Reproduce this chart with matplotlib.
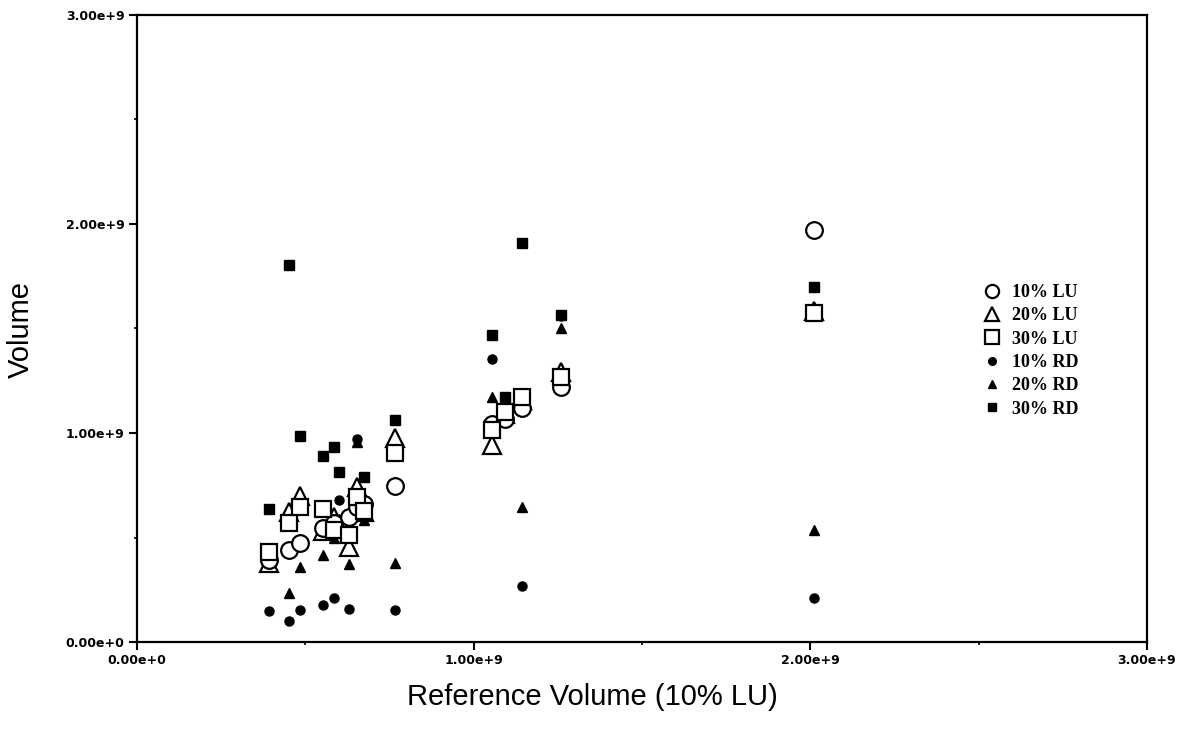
import numpy as np
import matplotlib
matplotlib.use("Agg")
import matplotlib.pyplot as plt
from matplotlib.lines import Line2D
from matplotlib.ticker import FixedLocator, MultipleLocator, FuncFormatter

nan = np.nan

# Reference volume (10% LU), in units of 1e9
ref_volume = [0.392, 0.452, 0.484, 0.553, 0.585, 0.600, 0.630, 0.653,
              0.675, 0.765, 1.053, 1.093, 1.145, 1.258, 2.010]

# Volumes for each scenario, in units of 1e9
lu10 = [0.39, 0.44, 0.475, 0.545, 0.57, nan, 0.60, 0.645,
        0.66, 0.746, 1.045, 1.065, 1.12, 1.222, 1.97]
lu20 = [0.38, 0.62, 0.70, 0.53, 0.60, nan, 0.455, 0.742,
        0.62, 0.976, 0.943, 1.09, 1.16, 1.29, 1.582]
lu30 = [0.43, 0.569, 0.646, 0.636, 0.536, nan, 0.512, 0.694,
        0.625, 0.904, 1.014, 1.10, 1.174, 1.27, 1.573]
rd10 = [0.148, 0.10, 0.153, 0.177, 0.21, 0.679, 0.158, 0.97,
        0.67, 0.153, 1.355, 1.096, 0.268, 1.56, 0.211]
rd20 = [0.39, 0.236, 0.36, 0.416, 0.50, 0.59, 0.373, 0.955,
        0.584, 0.378, 1.174, 1.13, 0.646, 1.50, 0.536]
rd30 = [0.636, 1.804, 0.986, 0.89, 0.931, 0.815, 0.592, 0.70,
        0.788, 1.062, 1.469, 1.174, 1.909, 1.565, 1.70]

series_labels = ["10% LU", "20% LU", "30% LU", "10% RD", "20% RD", "30% RD"]
tick_values = [0.0, 1.0e9, 2.0e9, 3.0e9]
tick_labels = ["0.00e+0", "1.00e+9", "2.00e+9", "3.00e+9"]

scale = 1e9
x = np.array(ref_volume) * scale

W, H = 1187, 749
fig = plt.figure(figsize=(W / 100, H / 100), dpi=100)
ax = fig.add_axes([137 / W, 1 - 642 / H, (1147 - 137) / W, (642 - 15) / H])

open_kw = dict(linestyle="none", markerfacecolor="white", markeredgecolor="black",
               markeredgewidth=1.6, color="black")
fill_kw = dict(linestyle="none", color="black")

# Filled (RD) markers first, open (LU) markers drawn over them
ax.plot(x, np.array(rd10) * scale, marker="o", markersize=6.5, zorder=3, **fill_kw)
ax.plot(x, np.array(rd20) * scale, marker="^", markersize=7, zorder=3, **fill_kw)
ax.plot(x, np.array(rd30) * scale, marker="s", markersize=6.5, zorder=3, **fill_kw)
ax.plot(x, np.array(lu20) * scale, marker="^", markersize=12.5, zorder=4, **open_kw)
ax.plot(x, np.array(lu30) * scale, marker="s", markersize=11.5, zorder=5, **open_kw)
ax.plot(x, np.array(lu10) * scale, marker="o", markersize=12, zorder=4, **open_kw)

ax.set_xlim(0, 3e9)
ax.set_ylim(0, 3e9)

ax.xaxis.set_major_locator(FixedLocator(tick_values))
ax.yaxis.set_major_locator(FixedLocator(tick_values))
fmt = FuncFormatter(lambda v, p: tick_labels[tick_values.index(v)] if v in tick_values else "")
ax.xaxis.set_major_formatter(fmt)
ax.yaxis.set_major_formatter(fmt)
ax.xaxis.set_minor_locator(MultipleLocator(0.5e9))
ax.yaxis.set_minor_locator(MultipleLocator(0.5e9))

ax.tick_params(which="major", direction="out", length=6, width=1.5,
               top=False, right=False)
ax.tick_params(which="minor", direction="out", length=2.5, width=1.2,
               top=False, right=False)
for lab in ax.get_xticklabels() + ax.get_yticklabels():
    lab.set_fontsize(9)
    lab.set_fontweight("bold")
    lab.set_family("DejaVu Sans")
ax.tick_params(axis="x", pad=3)
ax.tick_params(axis="y", pad=3)

for sp in ax.spines.values():
    sp.set_linewidth(1.6)

# Axis titles
fig.text(592 / W, 1 - 697 / H, "Reference Volume (10% LU)", fontsize=21,
         family="Liberation Sans", ha="center", va="center")
fig.text(21 / W, 1 - 330 / H, "Volume", fontsize=21, family="Liberation Sans",
         rotation=90, ha="center", va="center")

# Legend: LU 10/20/30 (open) then RD 10/20/30 (filled)
leg_specs = [("o", "white", 9.5, 1.6), ("^", "white", 10, 1.6), ("s", "white", 10, 1.6),
             ("o", "black", 5.5, 1.0), ("^", "black", 6, 1.0), ("s", "black", 5.5, 1.0)]
leg_handles = [Line2D([], [], linestyle="none", marker=m, markersize=ms,
                      markerfacecolor=fc, markeredgecolor="black", markeredgewidth=ew)
               for m, fc, ms, ew in leg_specs]
ax.legend(leg_handles, series_labels, loc="upper left",
          bbox_to_anchor=(0.82, 0.597), frameon=False,
          prop={"family": "Liberation Serif", "size": 13, "weight": "bold"},
          handletextpad=0.5, labelspacing=0.35, handlelength=1.2)

fig.savefig("out.png", dpi=100)
